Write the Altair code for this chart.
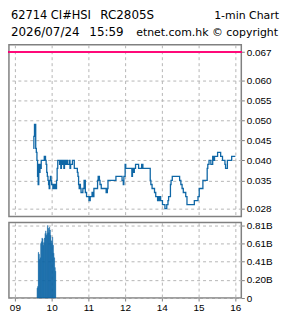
import json
import altair as alt
import pandas as pd

# ---------------- data ----------------
header_code = "62714 CI#HSI"
header_ticker = "RC2805S"
header_right_1 = "1-min Chart"
header_date = "2026/07/24"
header_time = "15:59"
header_right_2 = "etnet.com.hk © copyright"

price_times = [
    "09:30", "09:31", "09:32", "09:34", "09:35", "09:36", "09:37", "09:38", "09:39", "09:40",
    "09:41", "09:42", "09:43", "09:48", "09:50", "09:51", "09:52", "09:53", "09:54", "09:55",
    "09:56", "09:57", "09:58", "09:59", "10:00", "10:02", "10:03", "10:04", "10:05", "10:06",
    "10:08", "10:09", "10:10", "10:13", "10:14", "10:15", "10:16", "10:18", "10:19", "10:20",
    "10:21", "10:23", "10:24", "10:26", "10:29", "10:30", "10:31", "10:34", "10:37", "10:42",
    "10:43", "10:44", "10:45", "10:46", "10:47", "10:48", "10:51", "10:53", "10:55", "10:57",
    "11:01", "11:03", "11:06", "11:07", "11:09", "11:15", "11:16", "11:18", "11:19", "11:21",
    "11:29", "11:31", "11:32", "11:45", "11:55", "11:57", "11:58",
    "13:00", "13:01", "13:11", "13:12", "13:14", "13:15", "13:17", "13:22", "13:27", "13:29",
    "13:41", "13:42", "13:44", "13:48", "13:50", "13:53", "13:54", "13:55", "13:56", "13:58",
    "14:01", "14:05", "14:08", "14:10", "14:11", "14:14", "14:15", "14:17", "14:29", "14:31",
    "14:33", "14:35", "14:39", "14:41", "14:53", "14:59", "15:01", "15:07", "15:14", "15:15",
    "15:17", "15:20", "15:23", "15:24", "15:26", "15:31", "15:36", "15:39", "15:43", "15:44",
    "15:47", "15:54", "16:00",
]
price_values = [
    0.043, 0.046, 0.049, 0.043, 0.042, 0.040, 0.036, 0.034, 0.039, 0.037,
    0.039, 0.038, 0.040, 0.041, 0.040, 0.039, 0.037, 0.036, 0.035, 0.034,
    0.033, 0.035, 0.036, 0.035, 0.034, 0.033, 0.034, 0.033, 0.034, 0.033,
    0.035, 0.038, 0.040, 0.039, 0.040, 0.038, 0.040, 0.039, 0.040, 0.038,
    0.040, 0.039, 0.040, 0.039, 0.040, 0.038, 0.039, 0.040, 0.038, 0.037,
    0.036, 0.034, 0.033, 0.034, 0.033, 0.032, 0.033, 0.035, 0.032, 0.031,
    0.030, 0.031, 0.032, 0.031, 0.033, 0.035, 0.036, 0.035, 0.034, 0.033,
    0.032, 0.033, 0.035, 0.036, 0.035, 0.034, 0.036,
    0.039, 0.038, 0.036, 0.038, 0.037, 0.038, 0.039, 0.038, 0.039, 0.038,
    0.035, 0.034, 0.033, 0.032, 0.031, 0.030, 0.031, 0.030, 0.031, 0.030,
    0.029, 0.028, 0.029, 0.030, 0.031, 0.034, 0.035, 0.036, 0.035, 0.034,
    0.033, 0.032, 0.031, 0.029, 0.030, 0.031, 0.033, 0.035, 0.038, 0.039,
    0.040, 0.039, 0.041, 0.040, 0.041, 0.042, 0.041, 0.040, 0.039, 0.038,
    0.040, 0.041, 0.041,
]

vol_times = [
    "09:36", "09:37", "09:38", "09:39", "09:40", "09:41", "09:42", "09:43", "09:44", "09:45",
    "09:46", "09:47", "09:48", "09:49", "09:50", "09:51", "09:52", "09:53", "09:54", "09:55",
    "09:56", "09:57", "09:58", "09:59", "10:00", "10:01", "10:02", "10:03", "10:04", "10:05",
    "10:06",
]
vol_values = [  # billions
    0.11, 0.13, 0.51, 0.49, 0.43, 0.45, 0.61, 0.63, 0.67, 0.66,
    0.59, 0.62, 0.67, 0.72, 0.75, 0.70, 0.72, 0.81, 0.78, 0.73,
    0.79, 0.76, 0.70, 0.64, 0.61, 0.68, 0.59, 0.50, 0.45, 0.34,
    0.30,
]

x_tick_values = [0, 1, 2, 3, 4, 5, 6]
x_tick_labels = ["09", "10", "11", "12", "14", "15", "16"]
price_ticks = [0.028, 0.035, 0.040, 0.045, 0.050, 0.055, 0.060, 0.067]
vol_ticks = [0, 0.2025, 0.405, 0.6075, 0.81]
vol_tick_labels = ["0", "0.20B", "0.41B", "0.61B", "0.81B"]
ref_level = 0.067


def pos(t):
    h, m = (int(s) for s in t.split(":"))
    mins = (h - 9) * 60 + m
    if h >= 13:
        mins -= 60  # lunch break removed
    return mins / 60.0


price_df = pd.DataFrame({"time": price_times, "price": price_values})
price_df["pos"] = price_df["time"].map(pos)

vol_df = pd.DataFrame({"time": vol_times, "vol": vol_values})
vol_df["pos"] = vol_df["time"].map(pos)
vol_df["pos2"] = vol_df["pos"] + 1.0 / 60

# ---------------- styling ----------------
X_DOMAIN = [-0.162, 6.162]
W = 234
BLUE = "#0f67a6"
PINK = "#ff0a7a"
GRID = dict(grid=True, gridColor="#b5b5b5", gridDash=[3, 3], gridWidth=1)

x_expr = "[" + ",".join("'%s'" % s for s in x_tick_labels) + "][indexof(" + json.dumps(x_tick_values) + ", datum.value)]"
v_expr = "[" + ",".join("'%s'" % s for s in vol_tick_labels) + "][indexof(" + json.dumps(vol_ticks) + ", datum.value)]"

x_scale = alt.Scale(domain=X_DOMAIN, nice=False, zero=False)

x_top = alt.X("pos:Q", scale=x_scale,
              axis=alt.Axis(values=x_tick_values, tickCount=20, labels=False, ticks=False, domain=False,
                            title=None, **GRID))
y_top = alt.Y("price:Q", scale=alt.Scale(domain=[0.026, 0.0688], nice=False, zero=False),
              axis=alt.Axis(orient="right", values=price_ticks, tickCount=20, format=".3f", title=None,
                            domain=False, tickSize=3, tickColor="#808080", labelPadding=2, labelOverlap=False,
                            labelBound=False, labelFlush=False, **GRID))

line = alt.Chart(price_df).mark_line(interpolate="step-after", color=BLUE, strokeWidth=1.3).encode(x=x_top, y=y_top)
ref = alt.Chart(price_df).mark_rule(color=PINK, strokeWidth=1.5).encode(y=alt.datum(ref_level))


def txt(s, x, y, align, size):
    return alt.Chart(pd.DataFrame({"t": [s]})).mark_text(
        align=align, baseline="alphabetic", font="DejaVu Sans", fontSize=size, color="black"
    ).encode(x=alt.value(x), y=alt.value(y), text="t:N")


headers = [
    txt(header_code, 2, -26, "left", 11.5),
    txt(header_ticker, 92, -26, "left", 12),
    txt(header_right_1, 272, -26, "right", 11),
    txt(header_date, 2, -9, "left", 12),
    txt(header_time, 81, -9, "left", 12),
    txt(header_right_2, 271, -9, "right", 11),
]

top = alt.layer(line, ref, *headers).properties(width=W, height=173)

x_bot = alt.X("pos:Q", scale=x_scale,
              axis=alt.Axis(values=x_tick_values, tickCount=20, labelExpr=x_expr, tickSize=3, tickColor="#808080",
                            domain=False, title=None, labelPadding=2, labelOverlap=False, **GRID))
y_bot = alt.Y("vol:Q", scale=alt.Scale(domain=[0, 0.843], nice=False),
              axis=alt.Axis(orient="right", values=vol_ticks, tickCount=20, labelExpr=v_expr, title=None,
                            domain=False, tickSize=3, tickColor="#808080", labelPadding=2, labelOverlap=False,
                            labelBound=False, labelFlush=False, **GRID))

bars = alt.Chart(vol_df).mark_bar(color=BLUE, stroke=BLUE, strokeWidth=0.3).encode(
    x=x_bot, x2="pos2:Q", y=y_bot, y2=alt.datum(0)
)
bottom = bars.properties(width=W, height=76)

chart = alt.vconcat(top, bottom, spacing=6, bounds="flush").properties(
    padding={"left": 7, "top": 7, "right": 5, "bottom": 5}
).configure_view(
    stroke="#808080", strokeWidth=1.5
).configure_axis(
    labelFont="Liberation Sans", labelFontSize=10, labelColor="black", labelOverlap=False
)

chart.save("out.html", embed_options={"renderer": "svg", "actions": False})
